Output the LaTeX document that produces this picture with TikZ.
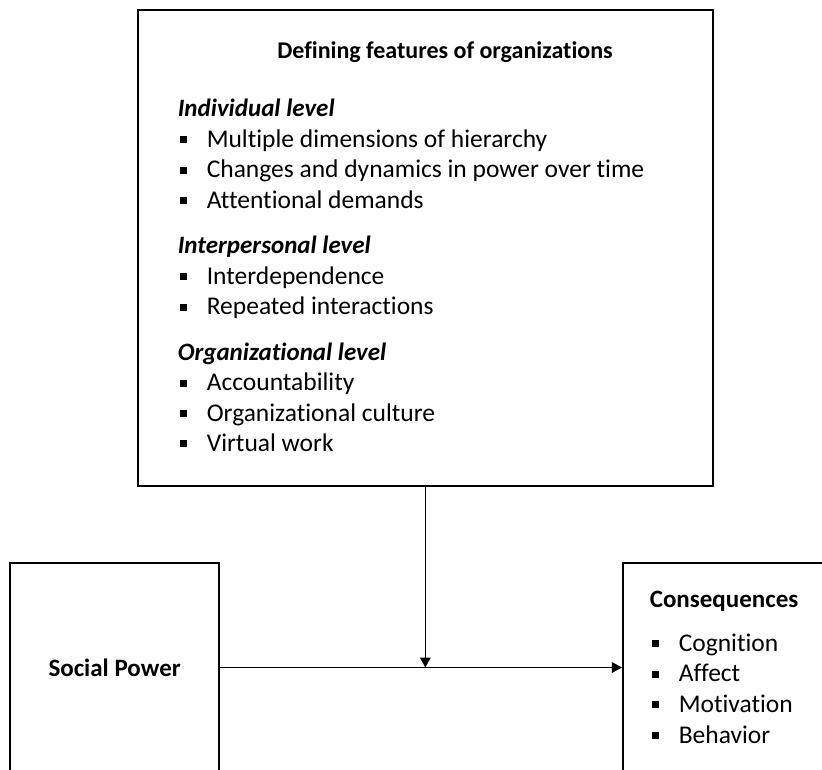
\documentclass[tikz,border=0pt]{standalone}
\usepackage{fontspec}
\setmainfont{Carlito}[Ligatures={NoCommon,NoContextual}]
\usetikzlibrary{arrows.meta}
\usetikzlibrary{positioning}

\newcommand{\sqbullet}{\makebox[29pt][l]{\hspace{2.5pt}\rule[4pt]{7pt}{7pt}}}

\begin{document}
\begin{tikzpicture}[x=1pt, y=-1pt, line width=1.6pt,
    font=\fontsize{25.5}{30}\selectfont,
    box/.style={draw, inner sep=0pt},
    txt/.style={anchor=base west, inner sep=0pt},
    head/.style={txt, font=\fontsize{25}{30}\selectfont\bfseries\itshape},
    conn/.style={-{Triangle[length=10pt,width=10.5pt]}}]
    \useasboundingbox (0,0) rectangle (822,769);

    \node[box, minimum width=575pt, minimum height=476pt] (feat) at (425.3,248) {};
    \node[box, minimum width=209pt, minimum height=209pt, font=\fontsize{25}{30}\selectfont\bfseries] (power) at (114.6,667.5) {Social Power};
    \node[box, minimum width=209pt, minimum height=209pt] (conseq) at (727.2,667.5) {};

    % features box
    \node[anchor=base, inner sep=0pt, font=\fontsize{24}{30}\selectfont\bfseries] (title) at (445,58.3) {Defining features of organizations};
    \node[head] (indiv) at (177,116.7) {Individual level};
    \node[txt] (indiv1) at (177,147) {\sqbullet Multiple dimensions of hierarchy};
    \node[txt] (indiv2) at (177,177.5) {\sqbullet Changes and dynamics in power over time};
    \node[txt] (indiv3) at (177,208) {\sqbullet Attentional demands};
    \node[head] (inter) at (177,253) {Interpersonal level};
    \node[txt] (inter1) at (177,284) {\sqbullet Interdependence};
    \node[txt] (inter2) at (177,314.5) {\sqbullet Repeated interactions};
    \node[head] (org) at (177,360) {Organizational level};
    \node[txt] (org1) at (177,390.5) {\sqbullet Accountability};
    \node[txt] (org2) at (177,421) {\sqbullet Organizational culture};
    \node[txt] (org3) at (177,451) {\sqbullet Virtual work};

    % consequences box
    \node[txt, font=\fontsize{25}{30}\selectfont\bfseries] (cons) at (649,607) {Consequences};
    \node[txt] (cons1) at (649,651) {\sqbullet Cognition};
    \node[txt] (cons2) at (649,681.7) {\sqbullet Affect};
    \node[txt] (cons3) at (649,712.4) {\sqbullet Motivation};
    \node[txt] (cons4) at (649,743) {\sqbullet Behavior};

    \draw[conn] (power.east) -- (conseq.west);
    \draw[conn] (feat.south) -- (feat.south |- power.east);
\end{tikzpicture}
\end{document}
